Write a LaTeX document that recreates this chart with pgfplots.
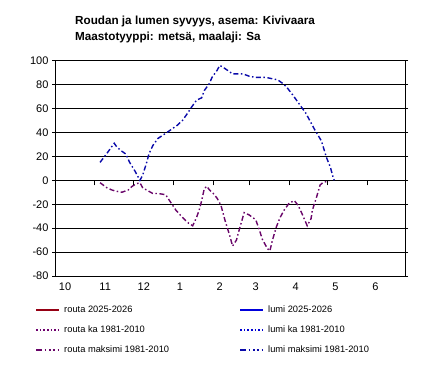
\documentclass[border=0pt]{standalone}
\usepackage{pgfplots}
\pgfplotsset{compat=1.18}
\usepackage{fontspec}
\setmainfont{Liberation Sans}
\definecolor{routanow}{RGB}{150,0,20}
\definecolor{luminow}{RGB}{0,0,220}
\definecolor{routaka}{RGB}{110,0,110}
\definecolor{lumika}{RGB}{0,0,210}
\definecolor{routamax}{RGB}{105,5,105}
\definecolor{lumimax}{RGB}{10,10,170}
\begin{document}
\begin{tikzpicture}
\path[use as bounding box] (0pt,0pt) rectangle (430pt,376pt);
\node[anchor=base west, inner sep=0pt, font=\fontsize{11.7}{14}\selectfont\bfseries] at (75pt,352pt) {Roudan ja lumen syvyys, asema: Kivivaara};
\node[anchor=base west, inner sep=0pt, font=\fontsize{11.7}{14}\selectfont\bfseries] at (75pt,336pt) {Maastotyyppi: metsä, maalaji: Sa};
\begin{axis}[
  at={(55pt,100pt)}, anchor=south west, scale only axis,
  width=350pt, height=215.3pt,
  xmin=0, xmax=272, ymin=-80, ymax=100,
  ytick={-80,-60,...,100},
  ymajorgrids, grid style={black, line width=0.8pt},
  axis line style={black, line width=0.8pt},
  xtick={7.8,39,69,97,128,156,187,218,249},
  xticklabels={10,11,12,1,2,3,4,5,6},
  xtick style={draw=none},
  ytick style={black, line width=0.8pt},
  tick align=outside, major tick length=3pt,
  tick label style={font=\fontsize{11}{13}\selectfont},
  /pgf/number format/assume math mode=true,
  legend columns=2,
  legend cell align=left,
  legend image code/.code={\draw[#1] (0pt,0pt) -- (23pt,0pt);},
  legend style={at={(-0.057,-0.135)}, anchor=north west, draw=none, fill=none,
    inner sep=0pt, row sep=11pt,
    font=\fontsize{9.3}{11}\selectfont,
    nodes={inner sep=0pt, text height=7pt, text depth=2pt},
    /tikz/every odd column/.style={column sep=4pt},
    /tikz/every even column/.style={column sep=70pt}},
]
\addlegendimage{routanow, line width=2pt}
\addlegendentry{routa 2025-2026}
\addlegendimage{luminow, line width=2pt}
\addlegendentry{lumi 2025-2026}
\addlegendimage{routaka, line width=1.5pt, dash pattern=on 1.6pt off 2pt}
\addlegendentry{routa ka 1981-2010}
\addlegendimage{lumika, line width=1.5pt, dash pattern=on 1.6pt off 2pt}
\addlegendentry{lumi ka 1981-2010}
\addlegendimage{routamax, line width=2pt, dash pattern=on 6pt off 2.5pt on 1.5pt off 3pt on 2pt off 1.5pt on 2pt off 3pt}
\addlegendentry{routa maksimi 1981-2010}
\addlegendimage{lumimax, line width=2pt, dash pattern=on 6pt off 2.5pt on 1.5pt off 3pt on 2pt off 1.5pt on 2pt off 3pt}
\addlegendentry{lumi maksimi 1981-2010}
\addplot[forget plot, routamax, line width=1.4pt, dash pattern=on 5pt off 2.5pt on 1.5pt off 2.5pt] coordinates {
(35,-2) (40,-6) (44,-8) (47,-9) (52,-10) (57,-8) (60,-5) (63,-3) (66,-2) (68,-6) (71,-8) (76,-11) (80,-11) (86,-12) (89,-17) (94,-25) (99,-31) (104,-36) (107,-38) (110,-31) (112,-25) (114,-17) (116,-7) (118,-5) (120,-8) (123,-11) (126,-15) (129,-21) (132,-33) (136,-47) (138,-55) (141,-50) (143,-42) (147,-27) (151,-29) (156,-33) (159,-42) (161,-49) (165,-57) (167,-59) (169,-50) (172,-39) (175,-31) (178,-25) (182,-19) (186,-17) (189,-21) (192,-28) (194,-33) (196,-38) (199,-32) (200,-25) (203,-15) (206,-4) (208,-2) (211,-1) (213,-1)
};
\addplot[forget plot, lumimax, line width=1.4pt, dash pattern=on 5pt off 2.5pt on 1.5pt off 2.5pt] coordinates {
(35,15) (40,22) (44,28) (46,31) (48,28) (51,25) (55,22) (58,15) (62,8) (64,4) (66,0) (68,4) (71,14) (73,22) (76,29) (80,35) (87,40) (91,43) (95,46) (99,50) (103,56) (106,61) (110,67) (114,69) (116,75) (120,81) (122,86) (126,92) (128,96) (130,95) (134,92) (138,89) (146,89) (151,87) (156,86) (164,86) (173,84) (177,81) (180,78) (185,71) (189,65) (195,56) (202,42) (207,33) (211,19) (214,11) (216,3) (217,0)
};
\end{axis}
\begin{axis}[
  at={(55pt,100pt)}, anchor=south west, scale only axis,
  width=350pt, height=215.3pt,
  xmin=0, xmax=272, ymin=-80, ymax=100,
  axis x line*=middle, axis y line=none,
  x axis line style={draw=none},
  xtick={31,61,92,123,151,182,212,243},
  xticklabels={},
  xtick align=outside, major tick length=5pt,
  xtick style={black, line width=0.8pt},
]
\end{axis}
\end{tikzpicture}
\end{document}
